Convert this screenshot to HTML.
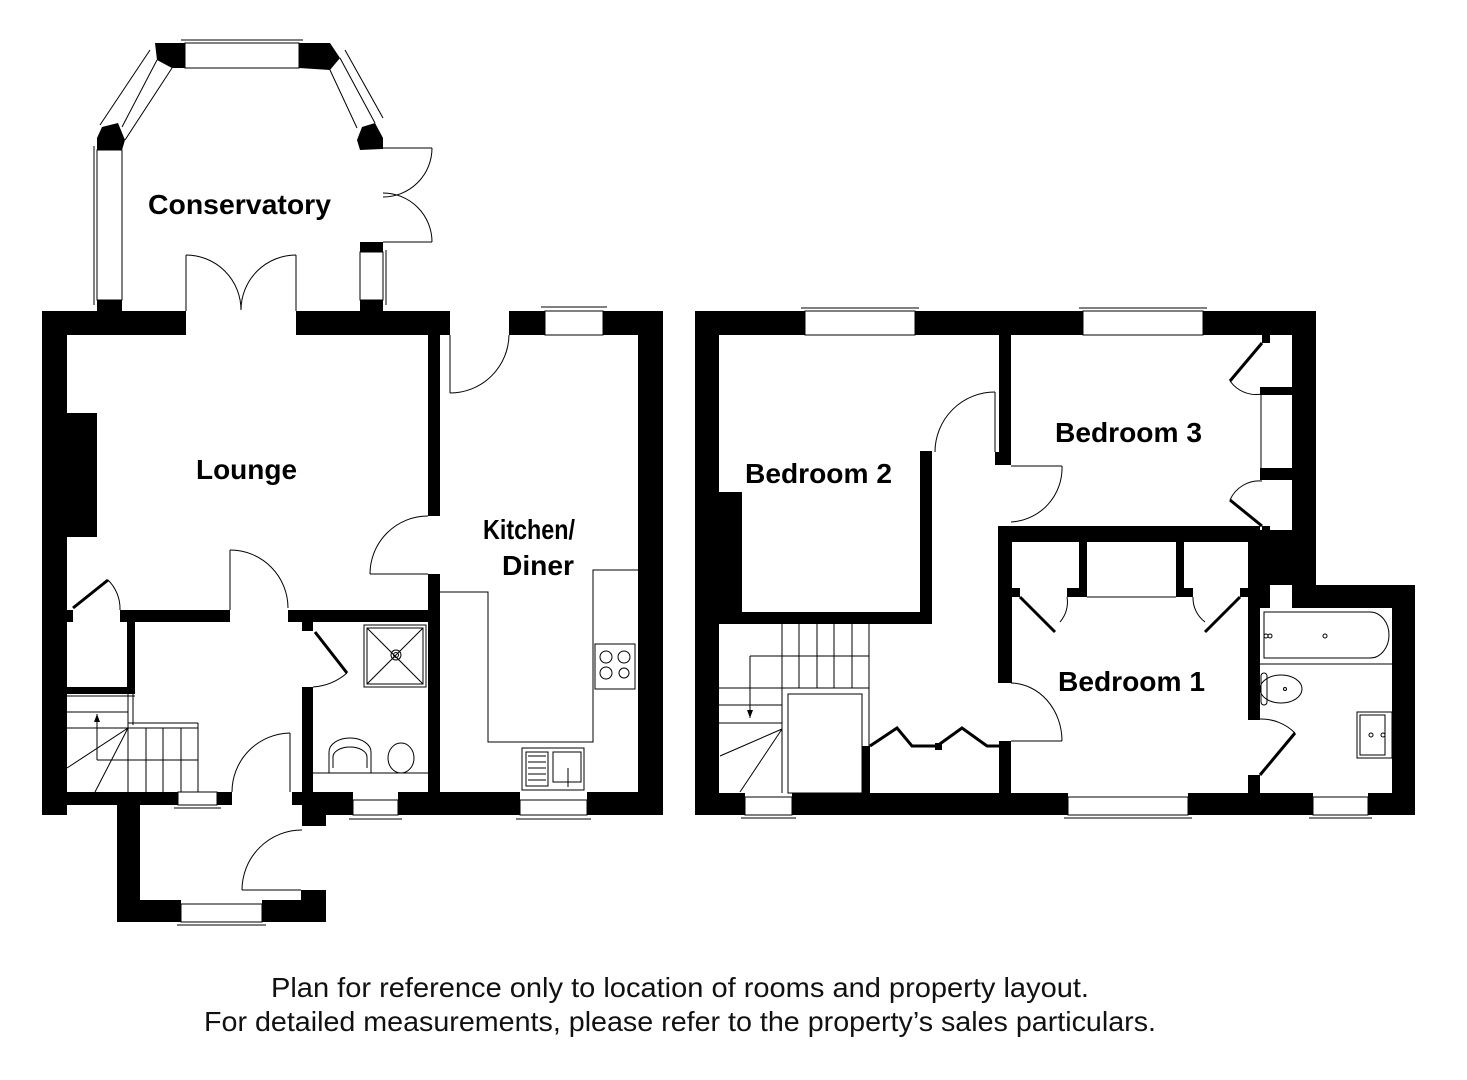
<!DOCTYPE html>
<html><head><meta charset="utf-8"><style>
html,body{margin:0;padding:0;background:#fff;}
svg{display:block;}
text{font-family:"Liberation Sans",Arial,sans-serif;}
.lbl{font-weight:bold;font-size:28px;fill:#000;}
.ft{font-size:28px;fill:#111;}
</style></head><body>
<svg width="1467" height="1080" viewBox="0 0 1467 1080" xmlns="http://www.w3.org/2000/svg">
<g fill="#000">
<!-- ===== GROUND FLOOR ===== -->
<rect x="42" y="311" width="144" height="24"/>
<rect x="296" y="311" width="154" height="24"/>
<rect x="509" y="311" width="36" height="24"/>
<rect x="603" y="311" width="60" height="24"/>
<rect x="42" y="311" width="25" height="504"/>
<rect x="638" y="311" width="25" height="504"/>
<rect x="428" y="311" width="12" height="205"/>
<rect x="428" y="574" width="12" height="241"/>
<rect x="67" y="413" width="30" height="124"/>
<rect x="66" y="610" width="7" height="12"/>
<rect x="120" y="610" width="110" height="12"/>
<rect x="288" y="610" width="140" height="12"/>
<rect x="127" y="610" width="8" height="84"/>
<rect x="66" y="687" width="69" height="7"/>
<rect x="302" y="622" width="11" height="9"/>
<rect x="302" y="687" width="11" height="128"/>
<rect x="42" y="792" width="136" height="13"/>
<rect x="217" y="792" width="15" height="13"/>
<rect x="292" y="792" width="10" height="13"/>
<rect x="302" y="792" width="51" height="23"/>
<rect x="398" y="792" width="122" height="23"/>
<rect x="587" y="792" width="76" height="23"/>
<rect x="302" y="800" width="24" height="26"/>
<rect x="117" y="800" width="23" height="122"/>
<rect x="117" y="900" width="64" height="22"/>
<rect x="262" y="900" width="39" height="22"/>
<rect x="301" y="890" width="25" height="32"/>
<!-- conservatory -->
<rect x="97" y="300" width="25" height="11"/>
<rect x="360" y="242" width="23" height="10"/>
<rect x="360" y="300" width="23" height="11"/>
<polygon points="155,43 185,43 185,68 172,68 157,60"/>
<polygon points="299,43 330,43 340,58 330,70 299,68"/>
<polygon points="102,127 118,123 125,140 122,150 97,150 97,138"/>
<polygon points="362,127 375,123 383,138 383,149 360,150 357,140"/>
<!-- ===== FIRST FLOOR ===== -->
<rect x="695" y="311" width="110" height="24"/>
<rect x="915" y="311" width="168" height="24"/>
<rect x="1203" y="311" width="113" height="24"/>
<rect x="695" y="311" width="24" height="504"/>
<rect x="1292" y="311" width="24" height="274"/>
<rect x="719" y="492" width="23" height="120"/>
<rect x="719" y="612" width="213" height="12"/>
<rect x="920" y="451" width="12" height="173"/>
<rect x="999" y="335" width="12" height="130"/>
<rect x="995" y="452" width="16" height="13"/>
<rect x="998" y="526" width="262" height="16"/>
<rect x="998" y="526" width="14" height="157"/>
<rect x="999" y="741" width="12" height="52"/>
<rect x="1079" y="542" width="8" height="55"/>
<rect x="1176" y="542" width="8" height="55"/>
<rect x="1012" y="588" width="8" height="9"/>
<rect x="1067" y="588" width="20" height="9"/>
<rect x="1176" y="588" width="17" height="9"/>
<rect x="1240" y="588" width="8" height="9"/>
<rect x="1248" y="526" width="12" height="194"/>
<rect x="1248" y="530" width="68" height="55"/>
<rect x="1248" y="775" width="12" height="18"/>
<rect x="1260" y="585" width="10" height="23"/>
<rect x="1292" y="585" width="123" height="23"/>
<rect x="1392" y="585" width="23" height="230"/>
<rect x="1262" y="335" width="8" height="8"/>
<rect x="1260" y="387" width="32" height="8"/>
<rect x="1260" y="468" width="32" height="12"/>
<rect x="1262" y="526" width="8" height="7"/>
<rect x="862" y="746" width="8" height="47"/>
<rect x="695" y="793" width="50" height="22"/>
<rect x="792" y="793" width="276" height="22"/>
<rect x="1188" y="793" width="125" height="22"/>
<rect x="1368" y="793" width="47" height="22"/>
</g>
<g fill="none" stroke="#000" stroke-width="1">
<rect x="178" y="792" width="39" height="13"/><line x1="174" y1="808" x2="221" y2="808"/>
<rect x="353" y="800" width="45" height="15"/><line x1="349" y1="819" x2="402" y2="819"/>
<rect x="520" y="800" width="67" height="15"/><line x1="516" y1="819" x2="591" y2="819"/>
<rect x="545" y="311" width="58" height="24"/><line x1="541" y1="307" x2="607" y2="307"/>
<rect x="181" y="904" width="81" height="18"/><line x1="177" y1="925" x2="266" y2="925"/>
<rect x="185" y="43" width="114" height="25"/><line x1="181" y1="40" x2="303" y2="40"/>
<rect x="97" y="150" width="25" height="150"/><line x1="94" y1="146" x2="94" y2="305"/>
<line x1="157" y1="60" x2="122" y2="127"/><line x1="172" y1="68" x2="125" y2="140"/><line x1="150" y1="50" x2="100" y2="125"/>
<line x1="330" y1="70" x2="357" y2="128"/><line x1="340" y1="58" x2="375" y2="123"/><line x1="345" y1="50" x2="383" y2="118"/>
<rect x="360" y="252" width="23" height="48"/><line x1="386" y1="250" x2="386" y2="305"/>
<line x1="383" y1="148" x2="432" y2="148"/><path d="M432,148 A49,49 0 0 1 383,197"/>
<line x1="383" y1="242" x2="432" y2="242"/><path d="M432,242 A49,49 0 0 0 383,193"/>
<line x1="186" y1="255" x2="186" y2="311"/><path d="M186,255 A55,55 0 0 1 241,310"/>
<line x1="296" y1="255" x2="296" y2="311"/><path d="M296,255 A55,55 0 0 0 241,310"/>
<line x1="450" y1="335" x2="450" y2="393"/><path d="M450,393 A59,59 0 0 0 509,335"/>
<line x1="370" y1="574" x2="428" y2="574"/><path d="M370,574 A58,58 0 0 1 428,516"/>
<line x1="230" y1="550" x2="230" y2="610"/><path d="M230,550 A58,58 0 0 1 288,608"/>
<path d="M108,580 A40,40 0 0 1 120,610"/>
<line x1="290" y1="733" x2="290" y2="792"/><path d="M290,733 A59,59 0 0 0 232,792"/>
<path d="M302,830 A60,60 0 0 0 242,890"/><line x1="242" y1="890" x2="301" y2="890"/>
<path d="M347,673 A58,58 0 0 1 313,687"/>
<rect x="364" y="625" width="62" height="62"/><rect x="367" y="628" width="56" height="56"/>
<line x1="367" y1="628" x2="423" y2="684"/><line x1="423" y1="628" x2="367" y2="684"/>
<circle cx="396" cy="655" r="5"/><circle cx="396" cy="655" r="2.5"/>
<line x1="313" y1="773" x2="428" y2="773"/>
<path d="M329,773 L329,752 A21,14 0 0 1 371,752 L371,773"/><path d="M333,768 L333,757 A17,10 0 0 1 367,757 L367,768"/>
<ellipse cx="401" cy="758" rx="13" ry="15"/>
<polyline points="440,592 488,592 488,742 593,742 593,570 638,570"/>
<rect x="595" y="644" width="40" height="45"/>
<circle cx="606" cy="657" r="6"/><circle cx="624" cy="657" r="6"/><circle cx="606" cy="673" r="6"/><circle cx="624" cy="673" r="5"/>
<rect x="522" y="748" width="62" height="42"/><rect x="526" y="752" width="22" height="34"/><rect x="553" y="752" width="28" height="30"/>
<line x1="528" y1="756" x2="546" y2="756"/><line x1="528" y1="762" x2="546" y2="762"/><line x1="528" y1="768" x2="546" y2="768"/><line x1="528" y1="774" x2="546" y2="774"/><line x1="528" y1="780" x2="546" y2="780"/>
<line x1="568" y1="768" x2="568" y2="787"/>
<line x1="67" y1="696" x2="135" y2="696"/><line x1="67" y1="712" x2="128" y2="712"/><line x1="67" y1="728" x2="198" y2="728"/>
<line x1="128" y1="694" x2="128" y2="728"/><line x1="133" y1="694" x2="133" y2="725"/>
<line x1="128" y1="723" x2="198" y2="723"/>
<line x1="198" y1="723" x2="198" y2="792"/><line x1="181" y1="728" x2="181" y2="792"/><line x1="163" y1="728" x2="163" y2="792"/><line x1="146" y1="728" x2="146" y2="792"/><line x1="128" y1="728" x2="128" y2="792"/>
<line x1="97" y1="714" x2="97" y2="760"/><line x1="97" y1="760" x2="198" y2="760"/>
<line x1="128" y1="728" x2="67" y2="768"/><line x1="128" y1="728" x2="95" y2="792"/>

<rect x="805" y="311" width="110" height="24"/><line x1="801" y1="308" x2="919" y2="308"/>
<rect x="1083" y="311" width="120" height="24"/><line x1="1079" y1="308" x2="1207" y2="308"/>
<rect x="745" y="797" width="47" height="18"/><line x1="741" y1="818" x2="796" y2="818"/>
<rect x="1068" y="797" width="120" height="18"/><line x1="1064" y1="818" x2="1192" y2="818"/>
<rect x="1313" y="797" width="55" height="18"/><line x1="1309" y1="818" x2="1372" y2="818"/>
<line x1="995" y1="392" x2="995" y2="452"/><path d="M995,392 A60,60 0 0 0 935,452"/>
<line x1="1011" y1="466" x2="1062" y2="466"/><path d="M1062,466 A54,54 0 0 1 1011,522"/>
<line x1="1011" y1="741" x2="1062" y2="741"/><path d="M1011,683 A52,58 0 0 1 1062,741"/>
<path d="M1230,381 A32,32 0 0 0 1262,394"/><path d="M1230,500 A32,32 0 0 1 1262,481"/>
<line x1="1261" y1="395" x2="1261" y2="468"/>
<line x1="1087" y1="597" x2="1176" y2="597"/>
<path d="M1060,622 A30,30 0 0 0 1067,597"/><path d="M1205,622 A30,30 0 0 1 1193,597"/>
<path d="M1260,719 A48,48 0 0 1 1295,733"/>
<line x1="1260" y1="664" x2="1392" y2="664"/>
<path d="M1264,612 L1370,612 A19,23 0 0 1 1370,658 L1264,658 Z"/>
<circle cx="1325" cy="636" r="2"/><circle cx="1266" cy="636" r="2"/><circle cx="1270" cy="636" r="2"/>
<ellipse cx="1281" cy="689" rx="21" ry="14"/><rect x="1261" y="673" width="6" height="32" rx="3"/><circle cx="1285" cy="689" r="1.5"/>
<rect x="1357" y="712" width="35" height="46"/><rect x="1360" y="715" width="25" height="40"/>
<circle cx="1371" cy="735" r="2"/><circle cx="1383" cy="735" r="2"/>
<line x1="782" y1="624" x2="782" y2="793"/><line x1="799" y1="624" x2="799" y2="688"/><line x1="817" y1="624" x2="817" y2="688"/><line x1="834" y1="624" x2="834" y2="688"/><line x1="852" y1="624" x2="852" y2="688"/><line x1="869" y1="624" x2="869" y2="746"/>
<line x1="750" y1="656" x2="869" y2="656"/><line x1="750" y1="656" x2="750" y2="718"/>
<line x1="719" y1="688" x2="869" y2="688"/><line x1="719" y1="705" x2="782" y2="705"/><line x1="719" y1="723" x2="782" y2="723"/>
<rect x="788" y="694" width="74" height="99"/>
<line x1="782" y1="729" x2="720" y2="756"/><line x1="782" y1="729" x2="740" y2="792"/>
</g>
<g stroke="#000" stroke-width="3" fill="none">
<line x1="73" y1="608" x2="108" y2="580"/>
<line x1="315" y1="632" x2="347" y2="673"/>
<line x1="1230" y1="381" x2="1262" y2="343"/>
<line x1="1230" y1="500" x2="1262" y2="526"/>
<line x1="1020" y1="597" x2="1055" y2="632"/>
<line x1="1240" y1="597" x2="1205" y2="632"/>
<line x1="1260" y1="775" x2="1295" y2="733"/>
<polyline points="870,746 897,728 912,746 937,746 962,728 987,746 999,746"/>
</g>
<polygon points="750,718 747,710 753,710" fill="#000"/>
<polygon points="97,714 94,722 100,722" fill="#000"/>
<rect x="935" y="743" width="7" height="7" fill="#000"/>

<text class="lbl" x="148" y="214" textLength="183" lengthAdjust="spacingAndGlyphs">Conservatory</text>
<text class="lbl" x="196" y="479" textLength="101" lengthAdjust="spacingAndGlyphs">Lounge</text>
<text class="lbl" x="483" y="539" textLength="92" lengthAdjust="spacingAndGlyphs">Kitchen/</text>
<text class="lbl" x="502" y="575" textLength="72" lengthAdjust="spacingAndGlyphs">Diner</text>
<text class="lbl" x="745" y="483" textLength="147" lengthAdjust="spacingAndGlyphs">Bedroom 2</text>
<text class="lbl" x="1055" y="442" textLength="147" lengthAdjust="spacingAndGlyphs">Bedroom 3</text>
<text class="lbl" x="1058" y="691" textLength="147" lengthAdjust="spacingAndGlyphs">Bedroom 1</text>
<text class="ft" x="271" y="997" textLength="818" lengthAdjust="spacingAndGlyphs">Plan for reference only to location of rooms and property layout.</text>
<text class="ft" x="204" y="1031" textLength="952" lengthAdjust="spacingAndGlyphs">For detailed measurements, please refer to the property’s sales particulars.</text>
</svg>
</body></html>
